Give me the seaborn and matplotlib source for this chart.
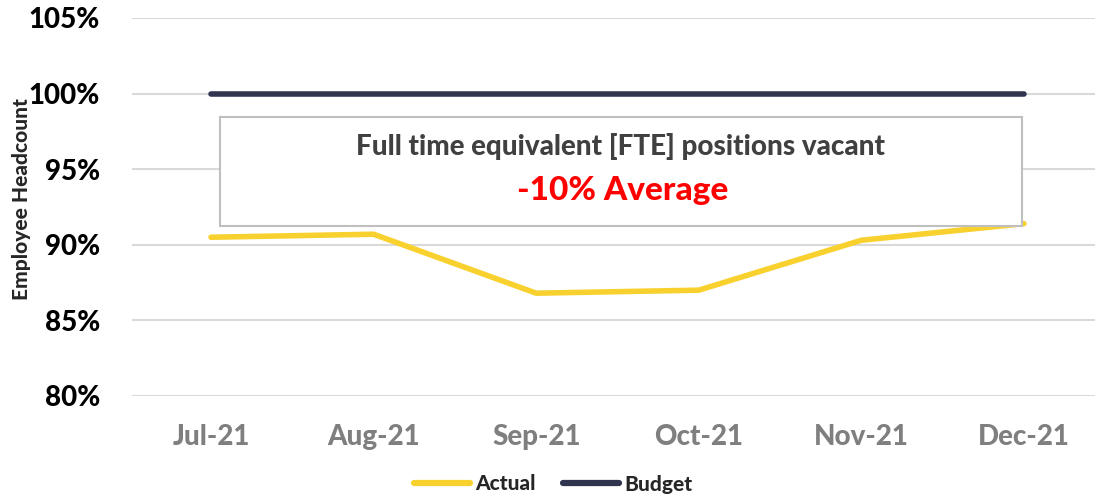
import pandas as pd
import matplotlib.pyplot as plt
import seaborn as sns
from matplotlib.patches import Rectangle

months = ['Jul-21', 'Aug-21', 'Sep-21', 'Oct-21', 'Nov-21', 'Dec-21']
actual = [90.5, 90.7, 86.8, 87.0, 90.3, 91.4]
budget = [100, 100, 100, 100, 100, 100]
y_ticks = [80, 85, 90, 95, 100, 105]

df = pd.DataFrame({
    'month': months * 2,
    'pos': list(range(len(months))) * 2,
    'value': actual + budget,
    'series': ['Actual'] * len(months) + ['Budget'] * len(months),
})

sns.set_style('white')
plt.rcParams['font.family'] = ['Lato', 'DejaVu Sans']
W = 900

fig = plt.figure(figsize=(10.97, 4.97), dpi=100)
ax = fig.add_axes([132 / 1097, 1 - 396 / 497, (1095 - 132) / 1097, (396 - 18) / 497])

sns.lineplot(data=df, x='pos', y='value', hue='series',
             palette={'Actual': '#F9D12F', 'Budget': '#30344F'},
             linewidth=4, ax=ax, legend=False, solid_capstyle='round')

ax.set_xlim(-0.486, 5.437)
ax.set_ylim(80, 105)
ax.set_yticks(y_ticks)
ax.set_yticklabels([f'{t}%' for t in y_ticks], fontsize=20, fontweight=W, color='black')
ax.set_xticks(range(len(months)))
ax.set_xticklabels(months, fontsize=20, fontweight=W, color='#7f7f7f')
ax.tick_params(axis='both', length=0)
ax.tick_params(axis='x', pad=20)
ax.tick_params(axis='y', pad=23)
ax.grid(axis='y', color='#d9d9d9', linewidth=1.5)
ax.set_axisbelow(True)
for s in ax.spines.values():
    s.set_visible(False)
ax.set_xlabel('')
ax.set_ylabel('Employee Headcount', fontsize=15, fontweight=W)
ax.yaxis.set_label_coords(-0.105, 0.52)

# annotation box
fig.patches.append(Rectangle((220 / 1097, 1 - 226 / 497), (1022 - 220) / 1097, (226 - 117) / 497,
                             transform=fig.transFigure, facecolor='white',
                             edgecolor='#bfbfbf', linewidth=1.5, zorder=5))
fig.text(620 / 1097, 1 - 147 / 497, 'Full time equivalent [FTE] positions vacant',
         ha='center', va='center', fontsize=20, fontweight=W, color='#404040', zorder=6)
fig.text(623 / 1097, 1 - 190 / 497, '-10% Average',
         ha='center', va='center', fontsize=24, fontweight=W, color='#ff0000', zorder=6)

# legend
handles = [plt.Line2D([], [], color='#F9D12F', linewidth=4.5, solid_capstyle='round'),
           plt.Line2D([], [], color='#30344F', linewidth=4.5, solid_capstyle='round')]
fig.legend(handles, ['Actual', 'Budget'], loc='center', bbox_to_anchor=(553 / 1097, 1 - 484 / 497),
           ncol=2, frameon=False, prop={'weight': W, 'size': 15},
           handlelength=2.7, handletextpad=0.25, columnspacing=1.3)

fig.savefig('out.png', dpi=100)
